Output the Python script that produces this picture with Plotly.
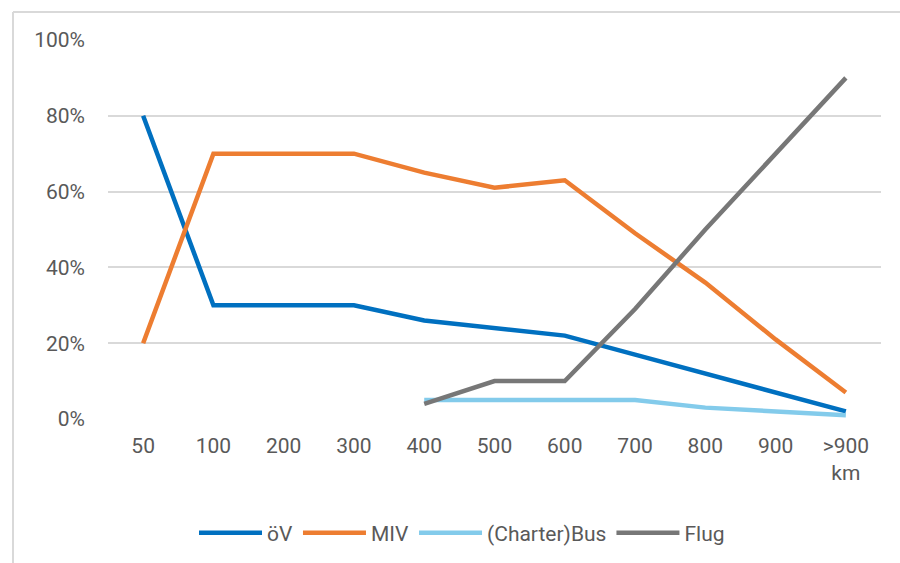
import plotly.graph_objects as go

categories = ["50", "100", "200", "300", "400", "500", "600", "700", "800", "900", ">900"]
tick_labels = ["50", "100", "200", "300", "400", "500", "600", "700", "800", "900", "&gt;900<br>km"]

oev = [0.80, 0.30, 0.30, 0.30, 0.26, 0.24, 0.22, 0.17, 0.12, 0.07, 0.02]
miv = [0.20, 0.70, 0.70, 0.70, 0.65, 0.61, 0.63, 0.49, 0.36, 0.21, 0.07]
bus = [None, None, None, None, 0.05, 0.05, 0.05, 0.05, 0.03, 0.02, 0.01]
flug = [None, None, None, None, 0.04, 0.10, 0.10, 0.29, 0.50, 0.70, 0.90]

series = [
    ("öV", oev, "#0070C0"),
    ("MIV", miv, "#ED7D31"),
    ("(Charter)Bus", bus, "#83CBEB"),
    ("Flug", flug, "#777777"),
]

fig = go.Figure()
for name, vals, color in series:
    fig.add_trace(go.Scatter(
        x=categories, y=vals, name=name, mode="lines",
        line=dict(color=color, width=4.5),
        connectgaps=False,
    ))

font_color = "#595959"
W, H = 900, 563
L, T, R, B = 108, 40, 19, 144
pw, ph = W - L - R, H - T - B

x_left = (13 - L) / pw
x_right = (W - L) / pw
y_top = (H - B - 12) / ph
y_bottom = -B / ph

fig.update_layout(
    width=W, height=H,
    paper_bgcolor="white", plot_bgcolor="white",
    margin=dict(l=L, r=R, t=T, b=B, autoexpand=False),
    font=dict(family="Roboto, Arial, sans-serif", size=21, color=font_color),
    showlegend=True,
    legend=dict(orientation="h", x=(462 - L) / pw, xanchor="center",
                y=-(533 - (H - B)) / ph, yanchor="middle",
                font=dict(size=21, color=font_color), itemwidth=63,
                traceorder="normal"),
    xaxis=dict(
        type="category", categoryorder="array", categoryarray=categories,
        range=[-0.5, len(categories) - 0.5],
        tickmode="array", tickvals=categories, ticktext=tick_labels,
        showgrid=False, showline=False, zeroline=False, ticks="",
        ticklabelstandoff=12,
    ),
    yaxis=dict(
        range=[0, 1], tickvals=[0, 0.2, 0.4, 0.6, 0.8, 1.0], tickformat=".0%",
        showgrid=True, gridcolor="#D9D9D9", gridwidth=1.5,
        zeroline=False, showline=False, ticks="",
        ticklabelstandoff=22,
    ),
    shapes=[
        dict(type="line", xref="paper", yref="paper",
             x0=x_left, x1=x_right, y0=y_top, y1=y_top,
             line=dict(color="#D9D9D9", width=2)),
        dict(type="line", xref="paper", yref="paper",
             x0=x_left, x1=x_left, y0=y_top, y1=y_bottom,
             line=dict(color="#D9D9D9", width=2)),
    ],
)

fig.write_html(
    "out.html",
    config={"displayModeBar": False},
    post_script="document.body.style.margin='0';document.body.style.overflow='hidden';",
)
